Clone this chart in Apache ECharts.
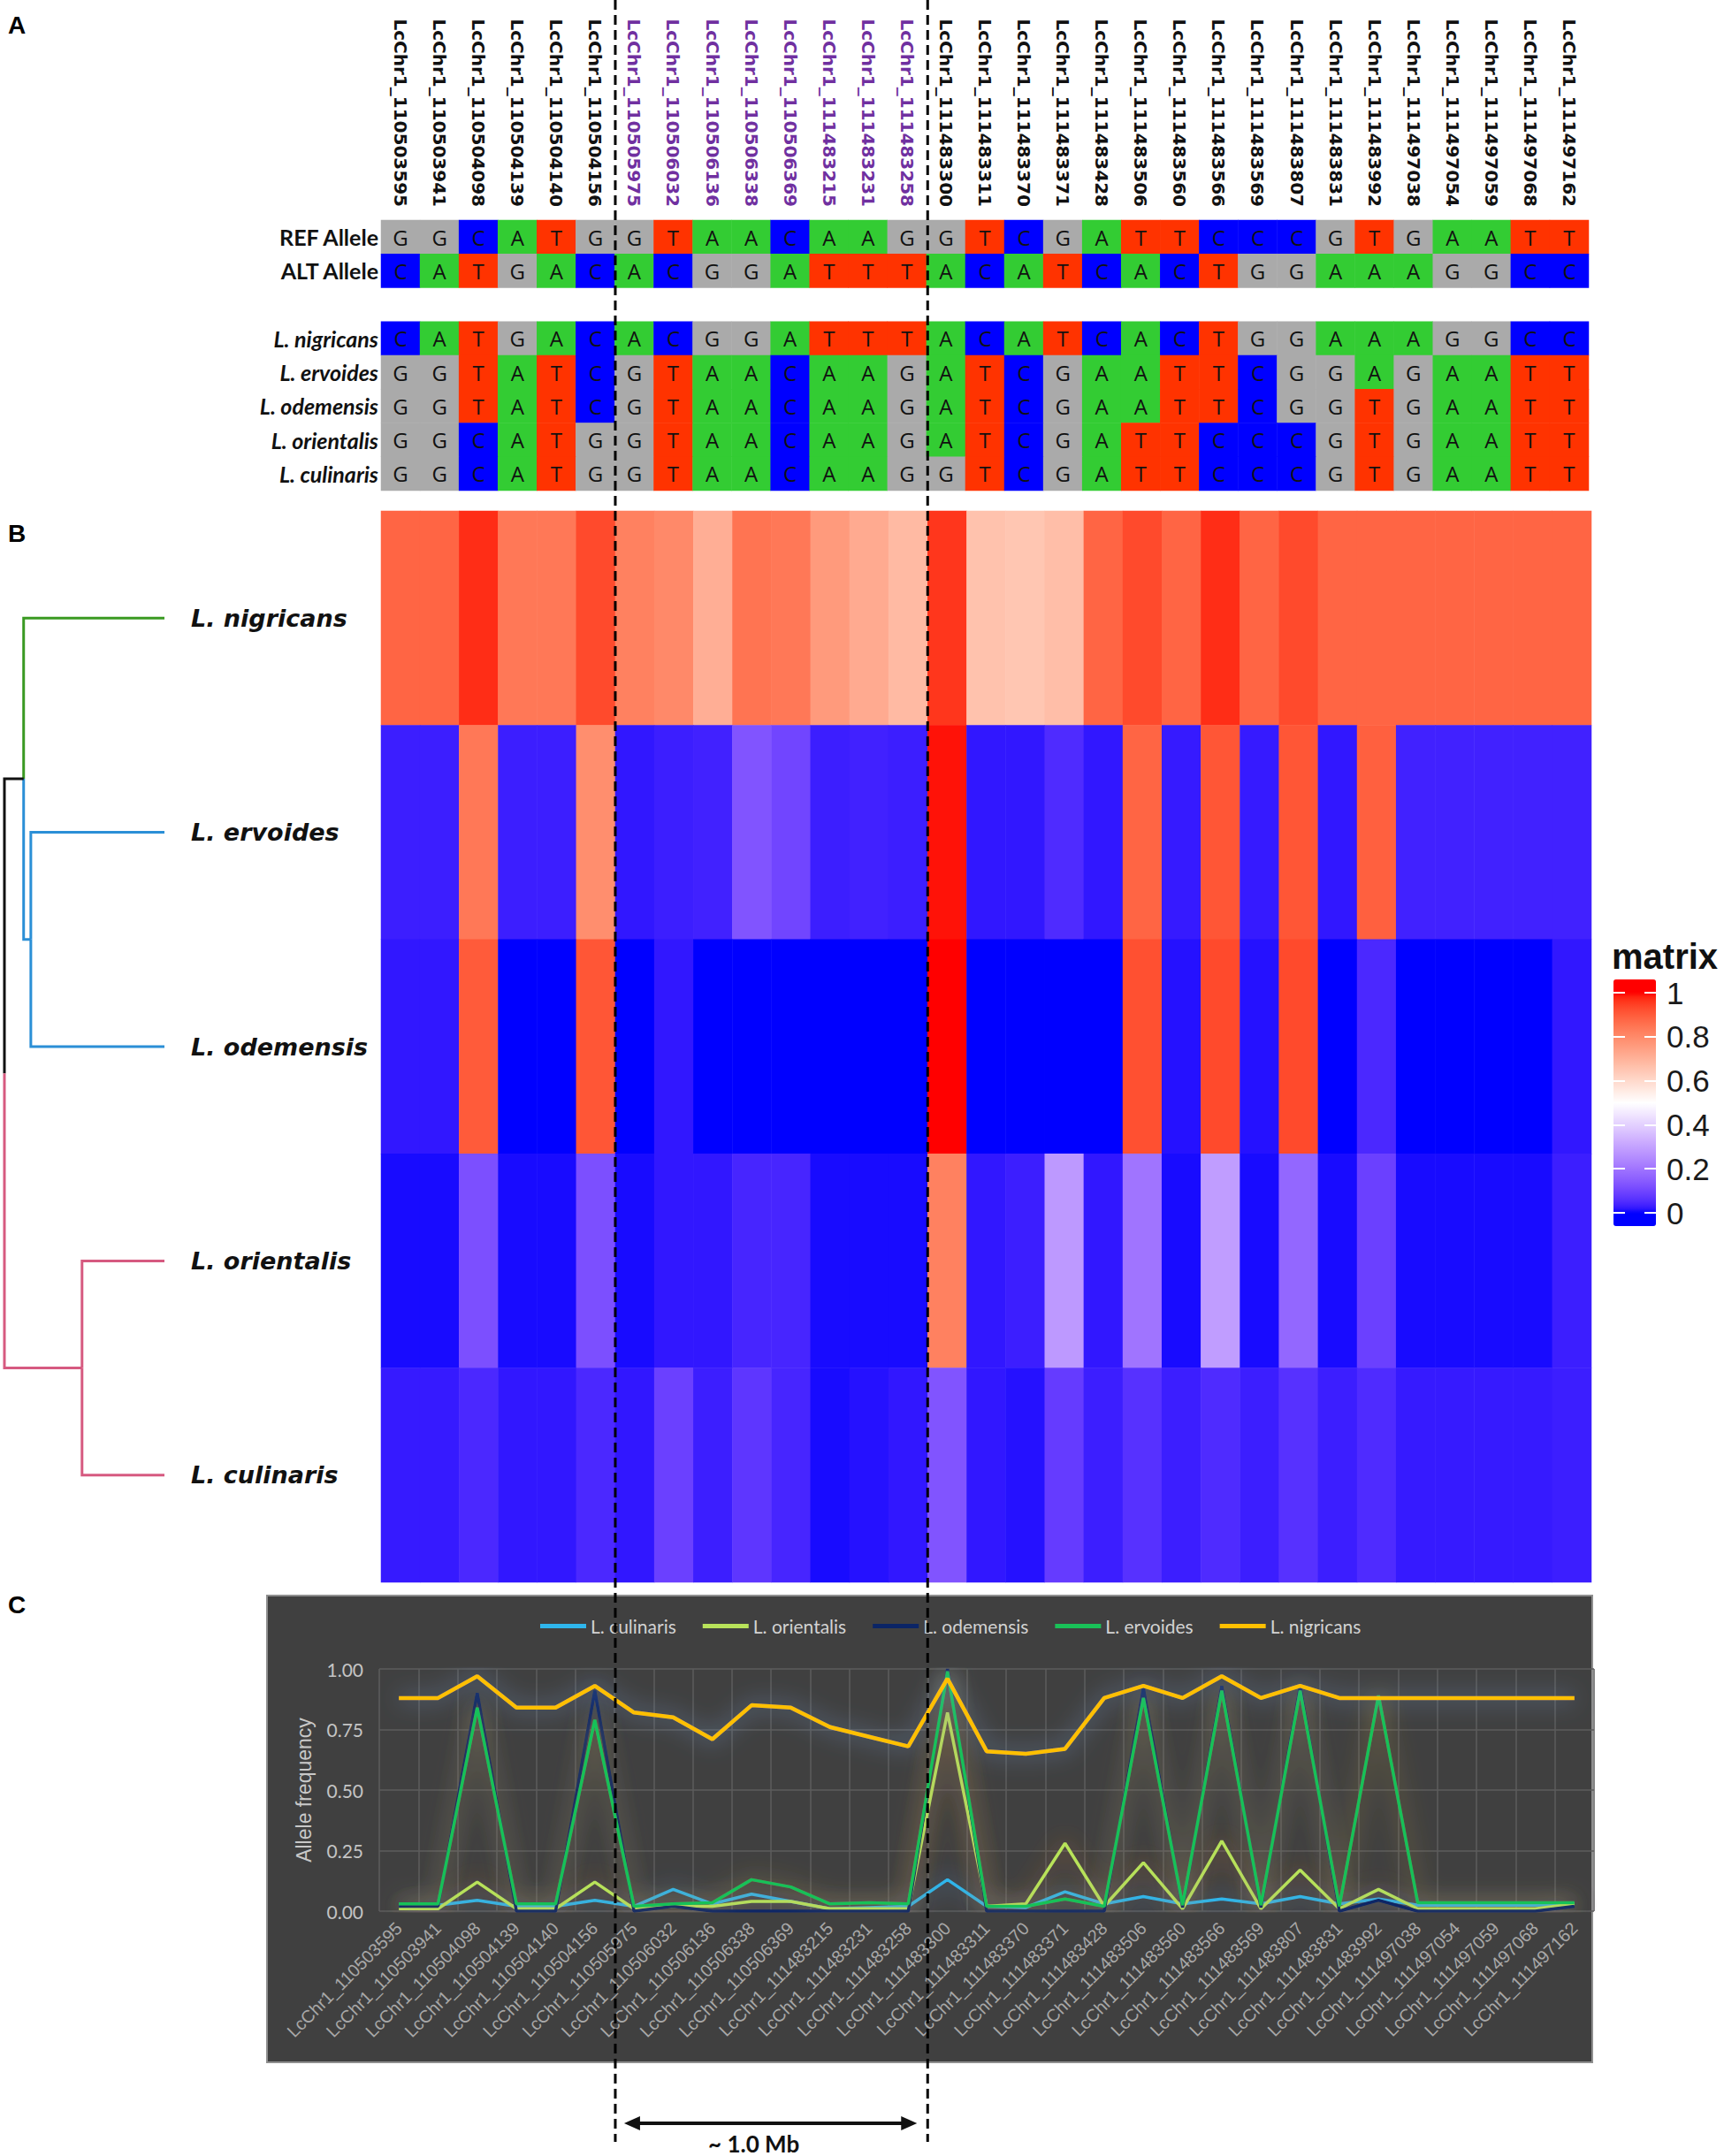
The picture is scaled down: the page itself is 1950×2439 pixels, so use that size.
<!DOCTYPE html>
<html>
<head>
<meta charset="utf-8">
<script src="https://cdn.jsdelivr.net/npm/echarts@6/dist/echarts.min.js"></script>
<style>html,body{margin:0;padding:0;background:#fff;}#main{width:1950px;height:2439px;}</style>
</head>
<body>
<div id="main"></div>
<script>
// ---------------- DATA ----------------
const snpIds = ['LcChr1_110503595','LcChr1_110503941','LcChr1_110504098','LcChr1_110504139','LcChr1_110504140','LcChr1_110504156',
  'LcChr1_110505975','LcChr1_110506032','LcChr1_110506136','LcChr1_110506338','LcChr1_110506369','LcChr1_111483215','LcChr1_111483231','LcChr1_111483258',
  'LcChr1_111483300','LcChr1_111483311','LcChr1_111483370','LcChr1_111483371','LcChr1_111483428','LcChr1_111483506','LcChr1_111483560','LcChr1_111483566',
  'LcChr1_111483569','LcChr1_111483807','LcChr1_111483831','LcChr1_111483992','LcChr1_111497038','LcChr1_111497054','LcChr1_111497059','LcChr1_111497068','LcChr1_111497162'];
const highlightedSnps = ['LcChr1_110505975','LcChr1_110506032','LcChr1_110506136','LcChr1_110506338','LcChr1_110506369','LcChr1_111483215','LcChr1_111483231','LcChr1_111483258'];

const refAllele  = ['G','G','C','A','T','G','G','T','A','A','C','A','A','G','G','T','C','G','A','T','T','C','C','C','G','T','G','A','A','T','T'];
const altAllele  = ['C','A','T','G','A','C','A','C','G','G','A','T','T','T','A','C','A','T','C','A','C','T','G','G','A','A','A','G','G','C','C'];
const nigricansGT  = ['C','A','T','G','A','C','A','C','G','G','A','T','T','T','A','C','A','T','C','A','C','T','G','G','A','A','A','G','G','C','C'];
const ervoidesGT   = ['G','G','T','A','T','C','G','T','A','A','C','A','A','G','A','T','C','G','A','A','T','T','C','G','G','A','G','A','A','T','T'];
const odemensisGT  = ['G','G','T','A','T','C','G','T','A','A','C','A','A','G','A','T','C','G','A','A','T','T','C','G','G','T','G','A','A','T','T'];
const orientalisGT = ['G','G','C','A','T','G','G','T','A','A','C','A','A','G','A','T','C','G','A','T','T','C','C','C','G','T','G','A','A','T','T'];
const culinarisGT  = ['G','G','C','A','T','G','G','T','A','A','C','A','A','G','G','T','C','G','A','T','T','C','C','C','G','T','G','A','A','T','T'];

const nucleotides = ['A','C','G','T'];
const speciesNames = ['L. nigricans','L. ervoides','L. odemensis','L. orientalis','L. culinaris'];
const alleleRowNames = ['REF Allele','ALT Allele',' ','L. nigricans','L. ervoides','L. odemensis','L. orientalis','L. culinaris'];

// allele frequency per species (also drawn as heatmap matrix)
const nigricansFreq  = [0.88,0.88,0.97,0.84,0.84,0.93,0.82,0.80,0.71,0.85,0.84,0.76,0.72,0.68,0.96,0.66,0.65,0.67,0.88,0.93,0.88,0.97,0.88,0.93,0.88,0.88,0.88,0.88,0.88,0.88,0.88];
const ervoidesFreq   = [0.03,0.03,0.84,0.03,0.03,0.79,0.02,0.03,0.035,0.13,0.10,0.03,0.035,0.03,0.99,0.02,0.02,0.05,0.02,0.88,0.025,0.91,0.025,0.91,0.02,0.89,0.035,0.035,0.035,0.035,0.035];
const odemensisFreq  = [0.02,0.02,0.90,0,0,0.91,0,0.02,0,0,0,0,0,0,1.0,0,0,0,0,0.92,0.015,0.93,0.015,0.93,0,0.045,0,0,0,0,0.02];
const orientalisFreq = [0.01,0.01,0.12,0.01,0.01,0.12,0.01,0.02,0.02,0.04,0.04,0.01,0.01,0.01,0.82,0.02,0.03,0.28,0.02,0.20,0.01,0.29,0.01,0.17,0.01,0.09,0.01,0.01,0.01,0.01,0.03];
const culinarisFreq  = [0.025,0.025,0.045,0.02,0.02,0.045,0.02,0.09,0.03,0.07,0.04,0.01,0.015,0.02,0.13,0.02,0.015,0.08,0.03,0.06,0.03,0.05,0.03,0.06,0.03,0.05,0.025,0.025,0.025,0.025,0.03];

// dendrogram: merge heights (relative)
const dendroNodes = [
  {id:'n1', children:['L. ervoides','L. odemensis'], height:0.835},
  {id:'n2', children:['L. nigricans','n1'], height:0.88},
  {id:'n3', children:['L. orientalis','L. culinaris'], height:0.515},
  {id:'root', children:['n2','n3'], height:1.0}
];

// ---------------- STYLE ----------------
const nucColors = {A:'#33cc33', C:'#0000ff', G:'#aaaaaa', T:'#ff3300'};
const branchColor = {'L. nigricans':'#3a9a22','n1':'#2b8fd6','L. ervoides':'#2b8fd6','L. odemensis':'#2b8fd6',
  'n2':'#111111','n3':'#d65a80','L. orientalis':'#d65a80','L. culinaris':'#d65a80'};
const lineSeriesDef = [
  {name:'L. culinaris', data:culinarisFreq, color:'#2fb6ec', glow:'rgba(90,150,230,0.75)', w:3.5},
  {name:'L. orientalis', data:orientalisFreq, color:'#b8e35a', glow:'rgba(210,120,50,0.7)', w:3.5},
  {name:'L. odemensis', data:odemensisFreq, color:'#0b2566', glow:'rgba(90,110,170,0.6)', w:3.5},
  {name:'L. ervoides', data:ervoidesFreq, color:'#19c158', glow:'rgba(215,180,70,0.75)', w:3.5},
  {name:'L. nigricans', data:nigricansFreq, color:'#ffc000', glow:'rgba(120,165,220,0.85)', w:4.5}
];

// Lab interpolation (like ggplot gradient2)
function toLin(c){c/=255;return c<=0.04045?c/12.92:Math.pow((c+0.055)/1.055,2.4);}
function toS(c){c=c<=0.0031308?12.92*c:1.055*Math.pow(c,1/2.4)-0.055;return Math.round(Math.max(0,Math.min(1,c))*255);}
function rgb2lab(rgb){const r=toLin(rgb[0]),g=toLin(rgb[1]),b=toLin(rgb[2]);
  const X=(0.4124*r+0.3576*g+0.1805*b)/0.95047,Y=(0.2126*r+0.7152*g+0.0722*b),Z=(0.0193*r+0.1192*g+0.9505*b)/1.08883;
  const f=t=>t>0.008856?Math.cbrt(t):7.787*t+16/116;const fx=f(X),fy=f(Y),fz=f(Z);
  return [116*fy-16,500*(fx-fy),200*(fy-fz)];}
function lab2rgb(lab){const fy=(lab[0]+16)/116,fx=fy+lab[1]/500,fz=fy-lab[2]/200;
  const fi=t=>{const t3=t*t*t;return t3>0.008856?t3:(t-16/116)/7.787;};
  const X=0.95047*fi(fx),Y=fi(fy),Z=1.08883*fi(fz);
  const r=3.2406*X-1.5372*Y-0.4986*Z,g=-0.9689*X+1.8758*Y+0.0415*Z,b=0.0557*X-0.2040*Y+1.0570*Z;
  return 'rgb('+toS(r)+','+toS(g)+','+toS(b)+')';}
const LBLUE=rgb2lab([0,0,255]),LWHITE=rgb2lab([255,255,255]),LRED=rgb2lab([255,0,0]);
function divColor(v){v=Math.max(0,Math.min(1,v));let a,b,t;
  if(v<0.5){a=LBLUE;b=LWHITE;t=v/0.5;}else{a=LWHITE;b=LRED;t=(v-0.5)/0.5;}
  return lab2rgb([a[0]+(b[0]-a[0])*t,a[1]+(b[1]-a[1])*t,a[2]+(b[2]-a[2])*t]);}
const vmMin=-0.06, vmMax=1.06, NSTOP=57;
const vmColors=[];for(let k=0;k<NSTOP;k++){vmColors.push(divColor(vmMin+(vmMax-vmMin)*k/(NSTOP-1)));}

// ---------------- BUILD ----------------
const alleleRows = {'REF Allele':refAllele,'ALT Allele':altAllele,'L. nigricans':nigricansGT,'L. ervoides':ervoidesGT,
  'L. odemensis':odemensisGT,'L. orientalis':orientalisGT,'L. culinaris':culinarisGT};
const alleleData=[];
alleleRowNames.forEach((rn,ri)=>{const row=alleleRows[rn];if(!row)return;
  row.forEach((nt,ci)=>alleleData.push([ci,ri,nucleotides.indexOf(nt)]));});

const freqBySpecies={'L. nigricans':nigricansFreq,'L. ervoides':ervoidesFreq,'L. odemensis':odemensisFreq,'L. orientalis':orientalisFreq,'L. culinaris':culinarisFreq};
const matrixData=[];
speciesNames.forEach((sp,ri)=>freqBySpecies[sp].forEach((v,ci)=>matrixData.push([ci,ri,v])));

// dendrogram segments
const nodeMap={};dendroNodes.forEach(n=>nodeMap[n.id]=n);
function nodeY(id){if(!nodeMap[id])return speciesNames.indexOf(id);const c=nodeMap[id].children;return (nodeY(c[0])+nodeY(c[1]))/2;}
function nodeH(id){return nodeMap[id]?nodeMap[id].height:0;}
const branchIds=Object.keys(branchColor);
const dendroData=[];
dendroNodes.forEach(n=>n.children.forEach(c=>dendroData.push([nodeH(n.id),nodeY(n.id),nodeH(c),nodeY(c),branchIds.indexOf(c)])));

const chart=echarts.init(document.getElementById('main'),null,{renderer:'svg',width:1950,height:2439});

const hidden={show:false};
const panelRect={type:'rect',z:-100,shape:{x:302,y:1805,width:1499,height:528},style:{fill:'#404040',stroke:'#8f8f8f',lineWidth:2}};
const option={
  animation:false,
  backgroundColor:'#ffffff',
  title:[
    {text:'A',left:9,top:14,padding:0,textStyle:{fontSize:28,fontWeight:'bold',fontFamily:'Liberation Sans',color:'#000'}},
    {text:'B',left:9,top:589,padding:0,textStyle:{fontSize:28,fontWeight:'bold',fontFamily:'Liberation Sans',color:'#000'}},
    {text:'C',left:9,top:1801,padding:0,textStyle:{fontSize:28,fontWeight:'bold',fontFamily:'Liberation Sans',color:'#000'}},
    {text:'matrix',left:1823,top:1062,padding:0,textStyle:{fontSize:40,fontWeight:'bold',fontFamily:'Liberation Sans',color:'#111'}}
  ],
  graphic:[panelRect],
  legend:{data:lineSeriesDef.map(s=>s.name),left:606,top:1824,icon:'rect',itemWidth:52,itemHeight:5,itemGap:30,
    textStyle:{color:'#d2d2d2',fontSize:21,fontFamily:'Lato'},selectedMode:false},
  grid:[
    {left:431,top:249,width:1366,height:306},
    {left:431,top:578,width:1369,height:1212},
    {left:5,top:578,width:181,height:1212},
    {left:429,top:1888,width:1374,height:274},
    {left:1825,top:1123,width:48,height:249}
  ],
  xAxis:[
    {type:'category',gridIndex:0,data:snpIds,position:'top',axisLine:hidden,axisTick:hidden,splitLine:hidden,
      axisLabel:{interval:0,rotate:90,margin:15,fontSize:20,fontWeight:'bold',fontFamily:'DejaVu Sans',
        color:(v)=>highlightedSnps.indexOf(v)>=0?'#7030a0':'#111'}},
    {type:'category',gridIndex:1,data:snpIds,show:false},
    {type:'value',gridIndex:2,min:0,max:1,inverse:true,show:false},
    {type:'category',gridIndex:3,data:snpIds,boundaryGap:true,axisLine:hidden,axisTick:hidden,
      splitLine:{show:true,interval:0,lineStyle:{color:'#5c5c5c',width:1.5}},
      axisLabel:{interval:0,rotate:45,margin:16,fontSize:20,fontFamily:'Liberation Sans',color:'#a8a8a8'}},
    {type:'value',gridIndex:4,min:0,max:1,show:false}
  ],
  yAxis:[
    {type:'category',gridIndex:0,data:alleleRowNames,inverse:true,axisLine:hidden,axisTick:hidden,splitLine:hidden,
      axisLabel:{margin:3,fontSize:25,fontFamily:'Lato',color:'#111',
        formatter:(v)=>v.indexOf('L.')===0?'{i|'+v+'}':'{b|'+v+'}',
        rich:{i:{fontStyle:'italic',fontWeight:'bold',fontSize:25,fontFamily:'Lato',color:'#111'},
              b:{fontWeight:'bold',fontSize:25,fontFamily:'Lato',color:'#111'}}}},
    {type:'category',gridIndex:1,data:speciesNames,inverse:true,axisLine:hidden,axisTick:hidden,splitLine:hidden,
      axisLabel:{margin:215,align:'left',fontSize:27,fontStyle:'italic',fontWeight:'bold',fontFamily:'DejaVu Sans',color:'#111'}},
    {type:'value',gridIndex:2,min:-0.5,max:4.5,inverse:true,show:false},
    {type:'value',gridIndex:3,min:0,max:1,interval:0.25,axisLine:hidden,axisTick:hidden,
      splitLine:{lineStyle:{color:'#5c5c5c',width:1.5}},
      name:'Allele frequency',nameLocation:'middle',nameRotate:90,nameGap:74,
      nameTextStyle:{color:'#c8c8c8',fontSize:23,fontFamily:'Liberation Sans'},
      axisLabel:{margin:18,fontSize:21,fontFamily:'Lato',color:'#c4c4c4',formatter:(v)=>v.toFixed(2)}},
    {type:'value',gridIndex:4,min:0,max:1,interval:0.2,position:'left',z:10,axisLine:hidden,splitLine:hidden,axisLabel:hidden,
      axisTick:{show:true,inside:true,length:13,lineStyle:{color:'#ffffff',width:2}}},
    {type:'value',gridIndex:4,min:0,max:1,interval:0.2,position:'right',z:10,axisLine:hidden,splitLine:hidden,
      axisTick:{show:true,inside:true,length:13,lineStyle:{color:'#ffffff',width:2}},
      axisLabel:{margin:12,fontSize:35,fontFamily:'Liberation Sans',color:'#1a1a1a'}}
  ],
  visualMap:[
    {type:'piecewise',seriesIndex:0,dimension:2,show:false,
      pieces:nucleotides.map((n,i)=>({value:i,color:nucColors[n]}))},
    {type:'continuous',seriesIndex:1,dimension:2,min:vmMin,max:vmMax,calculable:false,show:true,
      left:1825,top:1108,itemWidth:48,itemHeight:279,padding:0,text:null,showLabel:false,
      inRange:{color:vmColors},hoverLink:false,textStyle:{color:'transparent'}}
  ],
  series:[
    {type:'heatmap',xAxisIndex:0,yAxisIndex:0,data:alleleData,itemStyle:{borderWidth:0},
      label:{show:true,formatter:(p)=>nucleotides[p.value[2]],fontSize:24,fontFamily:'Open Sans',color:'#111'},
      emphasis:{disabled:true}},
    {type:'heatmap',xAxisIndex:1,yAxisIndex:1,data:matrixData,itemStyle:{borderWidth:0},emphasis:{disabled:true}},
    {type:'custom',xAxisIndex:2,yAxisIndex:2,data:dendroData,clip:false,silent:true,
      encode:{x:[0,2],y:[1,3]},
      renderItem:(params,api)=>{
        const p1=api.coord([api.value(0),api.value(1)]);
        const p2=api.coord([api.value(0),api.value(3)]);
        const p3=api.coord([api.value(2),api.value(3)]);
        return {type:'polyline',shape:{points:[p1,p2,p3]},style:{stroke:branchColor[branchIds[api.value(4)]],lineWidth:3,fill:null}};
      }}
  ].concat(lineSeriesDef.map(s=>({
    type:'line',name:s.name,xAxisIndex:3,yAxisIndex:3,data:s.data,color:s.color,showSymbol:false,symbol:'none',
    lineStyle:{width:s.w,color:s.color,shadowBlur:26,shadowColor:s.glow},emphasis:{disabled:true}
  })))
};
chart.setOption(option);

// dashed region boundaries & arrow, positioned through the category axis
const cx=(i)=>chart.convertToPixel({xAxisIndex:1},i);
const b1=(cx(5)+cx(6))/2, b2=(cx(13)+cx(14))/2;
const ay=2402, ax1=b1+10, ax2=b2-12;
chart.setOption({graphic:[
  panelRect,
  {type:'line',z:100,shape:{x1:b1,y1:0,x2:b1,y2:2423},style:{stroke:'#000',lineWidth:3,lineDash:[11,6]}},
  {type:'line',z:100,shape:{x1:b2,y1:0,x2:b2,y2:2423},style:{stroke:'#000',lineWidth:3,lineDash:[11,6]}},
  {type:'line',z:100,shape:{x1:ax1+8,y1:ay,x2:ax2-8,y2:ay},style:{stroke:'#111',lineWidth:4}},
  {type:'polygon',z:100,shape:{points:[[ax1,ay],[ax1+18,ay-8],[ax1+18,ay+8]]},style:{fill:'#111'}},
  {type:'polygon',z:100,shape:{points:[[ax2,ay],[ax2-18,ay-8],[ax2-18,ay+8]]},style:{fill:'#111'}},
  {type:'text',z:100,x:(b1+b2)/2-20,y:2425,style:{text:'~ 1.0 Mb',fontSize:26,fontWeight:'bold',fontFamily:'Lato',fill:'#111',
    align:'center',verticalAlign:'middle',textAlign:'center',textVerticalAlign:'middle'}}
]},{replaceMerge:['graphic']});
</script>
</body>
</html>
